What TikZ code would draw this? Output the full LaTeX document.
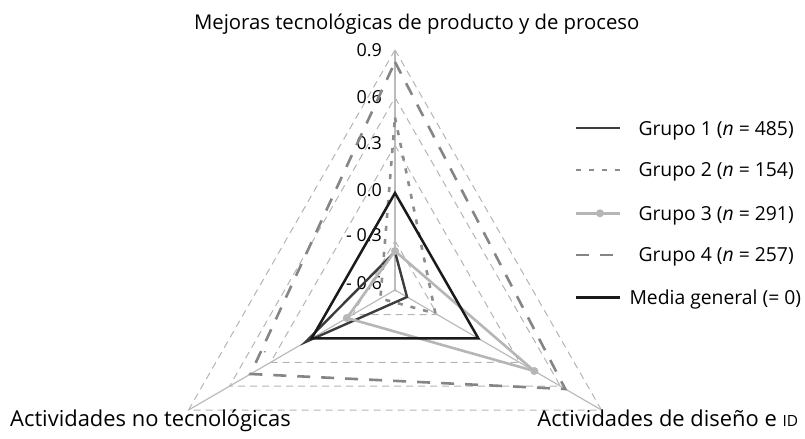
\documentclass[tikz,border=0pt]{standalone}
\usepackage{fontspec}
\setmainfont{Open Sans}
\usetikzlibrary{calc}
\definecolor{gridc}{HTML}{B4B4B4}
\definecolor{axisc}{HTML}{BBBBBB}
\definecolor{gonec}{HTML}{3C3C3C}
\definecolor{gtwoc}{HTML}{8C8C8C}
\definecolor{gthreec}{HTML}{B6B6B6}
\definecolor{gfourc}{HTML}{858585}
\definecolor{gmedc}{HTML}{1A1A1A}
\newcommand\radserie[4]{%
  \coordinate (#1T) at ($(C)+#2*(dT)$);
  \coordinate (#1R) at ($(C)+#3*(dR)$);
  \coordinate (#1L) at ($(C)+#4*(dL)$);}
\begin{document}
\begin{tikzpicture}[x=1bp,y=-1bp,
  gridl/.style={draw=gridc, line width=1bp, dash pattern=on 7bp off 5bp},
  axisl/.style={draw=axisc, line width=1.2bp},
  gone/.style={draw=gonec, line width=2.4bp},
  gtwo/.style={draw=gtwoc, line width=2.6bp, dash pattern=on 5bp off 8bp},
  gthree/.style={draw=gthreec, line width=2.6bp},
  gfour/.style={draw=gfourc, line width=2.6bp, dash pattern=on 13bp off 11bp},
  gmed/.style={draw=gmedc, line width=2.5bp},
  mk/.style={circle, fill=gthreec, inner sep=0pt, minimum size=8bp},
  tick/.style={font=\fontsize{18}{18}\selectfont, inner sep=0pt, anchor=east},
  ttl/.style={font=\fontsize{20.4}{20.4}\selectfont, inner sep=0pt},
  axl/.style={font=\fontsize{22}{22}\selectfont, inner sep=0pt},
  leg/.style={font=\fontsize{19.4}{19.4}\selectfont, inner sep=0pt, anchor=base west},
]
\useasboundingbox (0,0) rectangle (805,439);
\coordinate (C) at (395,290);
\coordinate (dT) at (0,-1);
\coordinate (dR) at (0.86,0.5);
\coordinate (dL) at (-0.86,0.5);
% grid
\foreach \r in {1.6,49.3,97,144.7,192.4,240.1}
  \draw[gridl] ($(C)+\r*(dT)$) -- ($(C)+\r*(dR)$) -- ($(C)+\r*(dL)$) -- cycle;
% axes
\coordinate (aT) at ($(C)+240.1*(dT)$);
\coordinate (aR) at ($(C)+240.1*(dR)$);
\coordinate (aL) at ($(C)+240.1*(dL)$);
\draw[axisl] (C) -- (aT);
\draw[axisl] (C) -- (aR);
\draw[axisl] (C) -- (aL);
% tick labels
\node[tick] (t9) at (382,50) {0.9};
\node[tick] (t6) at (382,96.7) {0.6};
\node[tick] (t3) at (382,143) {0.3};
\node[tick] (t0) at (382,190) {0.0};
\node[tick] (tm3) at (382,235) {- 0.3};
\node[tick] (tm6) at (382,282.7) {- 0.6};
\node[font=\fontsize{8}{8}\selectfont, inner sep=0pt] (stray) at (265,353) {-};
% series
\radserie{gA}{38.3}{14}{104}
\radserie{gB}{172.5}{47}{17}
\radserie{gC}{39}{162}{56}
\radserie{gD}{228}{198}{168}
\radserie{gM}{97}{97}{97}
\draw[gone] (gAT) -- (gAR) -- (gAL) -- cycle;
\draw[gtwo] (gBT) -- (gBR) -- (gBL) -- cycle;
\draw[gthree] (gCT) -- (gCR) -- (gCL) -- cycle;
\node[mk] (mT) at (gCT) {};
\node[mk] (mR) at (gCR) {};
\node[mk] (mL) at (gCL) {};
\draw[gfour] (gDT) -- (gDR) -- (gDL) -- cycle;
\draw[gmed] (gMT) -- (gMR) -- (gML) -- cycle;
% axis titles
\node[ttl, anchor=base] (ttop) at (416.7,29.3) {Mejoras tecnológicas de producto y de proceso};
\node[axl, anchor=base west] (tleft) at (10,426.7) {Actividades no tecnológicas};
\node[axl, anchor=base east] (tright) at (798.3,426.7) {Actividades de diseño e {\fontsize{15.5}{15.5}\selectfont ID}};
% legend
\draw[gone] (576,128.3) -- (620,128.3);
\node[leg] (l1) at (638.3,135.3) {Grupo 1 (\textit{n} = 485)};
\draw[gtwo] (576,170) -- (620,170);
\node[leg] (l2) at (638.3,177) {Grupo 2 (\textit{n} = 154)};
\draw[gthree] (576,213.3) -- (620,213.3);
\node[mk] (lm) at (600,213.3) {};
\node[leg] (l3) at (638.3,220.3) {Grupo 3 (\textit{n} = 291)};
\draw[gfour] (576,255) -- (620,255);
\node[leg] (l4) at (638.3,262) {Grupo 4 (\textit{n} = 257)};
\draw[gmed] (576,297.3) -- (620,297.3);
\node[leg] (l5) at (629.3,304.3) {Media general (= 0)};
\end{tikzpicture}
\end{document}
